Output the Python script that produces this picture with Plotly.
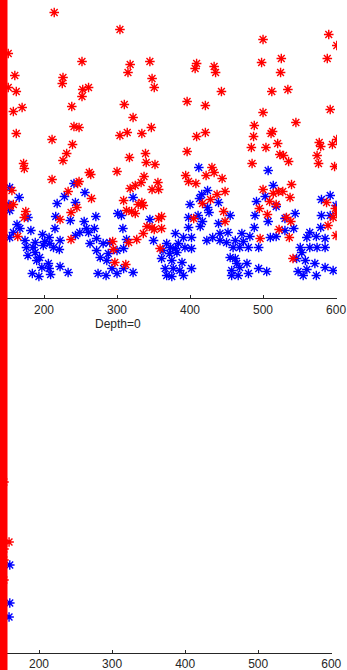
import plotly.graph_objects as go

# Upper panel (Depth=0): red and blue samples
red_x = [214, 304, 151, 252, 160, 226, 225, 151, 162, 253, 261, 252, 170, 238, 158, 241, 248, 162, 211, 239,
         304, 231, 226, 172, 173, 262, 264, 300, 211, 248, 246, 156, 233, 265, 158, 153, 245, 175, 173, 237,
         222, 164, 237, 294, 295, 297, 317, 339, 340, 352, 396, 337, 333, 325, 318, 356, 348, 357, 309, 334,
         329, 336, 313, 320, 325, 361, 357, 341, 348, 351, 361, 336, 327, 316, 359, 312, 394, 398, 408, 422,
         430, 433, 444, 437, 448, 428, 417, 446, 448, 405, 523, 528, 535, 485, 574, 576, 598, 539, 500, 514,
         521, 527, 537, 509, 518, 495, 506, 532, 538, 522, 536, 496, 541, 587, 599, 601, 596, 589, 600, 345,
         409, 407, 433, 435, 348, 351, 443, 396, 421, 347, 409, 421, 500, 498, 525, 524, 512, 534, 500, 545,
         488, 487, 513, 511, 520, 484, 504, 590, 601, 588, 592, 601, 595, 577, 579, 318, 315, 310, 322, 314,
         334]
red_y = [286, 269, 245, 237, 223, 221, 215, 211, 207, 209, 211, 202, 191, 192, 187, 172, 171, 165, 159, 154,
         163, 145, 138, 135, 130, 126, 124, 127, 119, 117, 115, 108, 107, 100, 94, 92, 91, 87, 81, 86,
         79, 62, 59, 57, 49, 36, 141, 145, 136, 134, 147, 122, 116, 113, 110, 116, 109, 109, 98, 96,
         94, 93, 88, 87, 85, 82, 80, 72, 71, 69, 70, 65, 59, 56, 50, 34, 123, 117, 115, 123,
         131, 126, 120, 104, 107, 99, 95, 87, 77, 80, 144, 143, 137, 135, 143, 135, 132, 114, 109, 105,
         107, 107, 101, 97, 94, 90, 84, 81, 77, 69, 61, 60, 40, 96, 90, 85, 81, 73, 63, 237,
         235, 230, 232, 226, 220, 211, 207, 197, 193, 171, 162, 166, 259, 236, 240, 226, 207, 209, 186, 176,
         173, 162, 167, 165, 155, 151, 151, 264, 253, 240, 189, 159, 154, 156, 152, 234, 226, 194, 181, 166,
         165]

blue_x = [241, 153, 166, 256, 228, 243, 218, 152, 153, 216, 236, 271, 178, 255, 163, 167, 182, 215, 258, 269,
          249, 158, 153, 198, 207, 243, 261, 174, 188, 201, 222, 208, 272, 301, 176, 185, 199, 213, 221, 263,
          281, 178, 188, 194, 272, 277, 288, 190, 206, 286, 197, 207, 222, 233, 184, 193, 209, 274, 285, 293,
          300, 300, 290, 412, 322, 306, 424, 416, 413, 400, 439, 424, 426, 411, 398, 345, 417, 439, 308, 398,
          414, 380, 391, 402, 350, 368, 384, 431, 441, 452, 313, 309, 373, 380, 393, 402, 423, 441, 450, 459,
          363, 372, 382, 361, 375, 389, 455, 462, 366, 377, 386, 402, 309, 322, 368, 375, 391, 457, 457, 464,
          507, 514, 503, 491, 518, 544, 489, 507, 530, 488, 542, 530, 455, 471, 482, 510, 518, 564, 560, 573,
          585, 579, 580, 592, 600, 580, 592, 462, 473, 468, 480, 494, 551, 564, 574, 585, 553, 546, 558, 571,
          478, 468, 494, 505, 466, 480, 548, 560, 585, 596, 573, 555]
blue_y = [115, 111, 101, 106, 102, 96, 95, 94, 88, 82, 78, 82, 81, 77, 74, 70, 68, 70, 70, 70,
          66, 66, 61, 64, 61, 63, 66, 58, 56, 57, 58, 55, 60, 85, 51, 51, 53, 51, 49, 55,
          55, 43, 46, 41, 48, 41, 45, 38, 35, 38, 31, 30, 32, 26, 25, 22, 24, 25, 23, 30,
          25, 48, 56, 131, 101, 83, 108, 104, 100, 94, 96, 91, 86, 83, 81, 79, 77, 75, 70, 71,
          72, 65, 61, 61, 58, 55, 55, 61, 65, 66, 59, 50, 51, 50, 51, 50, 58, 58, 56, 51,
          48, 45, 46, 40, 38, 36, 41, 40, 30, 30, 28, 30, 30, 26, 23, 22, 23, 28, 23, 35,
          128, 113, 102, 97, 92, 85, 83, 77, 80, 71, 70, 68, 83, 65, 62, 61, 62, 66, 61, 62,
          60, 71, 99, 103, 93, 83, 83, 58, 57, 51, 51, 51, 51, 51, 51, 51, 46, 40, 38, 35,
          35, 31, 30, 27, 23, 25, 27, 29, 31, 28, 23, 23]

# Lower panel: only a few samples near the left edge
red_x_lower = [159, 152, 152, 152, 152]
red_y_lower = [111, 104, 93, 73, 171]
blue_x_lower = [160, 160, 159]
blue_y_lower = [88, 50, 36]

tick_values = [200, 300, 400, 500, 600]
depth_label = "Depth=0"

RED = "#ff0000"
BLUE = "#0000ff"
AXIS = "#262626"
FONT = "Liberation Sans, Arial, sans-serif"


def star_trace(x, y, color, xa, ya):
    return go.Scatter(
        x=x, y=y, mode="markers", xaxis=xa, yaxis=ya, showlegend=False,
        marker=dict(symbol="asterisk-open", size=8, color=color,
                    line=dict(color=color, width=1.4)),
    )


fig = go.Figure()
fig.add_trace(star_trace(blue_x, blue_y, BLUE, "x", "y"))
fig.add_trace(star_trace(red_x, red_y, RED, "x", "y"))
fig.add_trace(star_trace(blue_x_lower, blue_y_lower, BLUE, "x2", "y2"))
fig.add_trace(star_trace(red_x_lower, red_y_lower, RED, "x2", "y2"))

xaxis_style = dict(
    tickvals=tick_values, ticks="inside", ticklen=3, tickwidth=1, tickcolor=AXIS,
    showline=True, linecolor=AXIS, linewidth=1, showgrid=False, zeroline=False,
    tickfont=dict(family=FONT, size=12, color=AXIS), fixedrange=True,
    automargin=False,
)
yaxis_style = dict(visible=False, automargin=False, fixedrange=True)

fig.update_layout(
    width=347, height=670,
    margin=dict(l=0, r=0, t=0, b=0, autoexpand=False),
    paper_bgcolor="white", plot_bgcolor="white",
    xaxis=dict(domain=[0, 337 / 347], range=[139.7, 601.3], anchor="y", **xaxis_style),
    yaxis=dict(domain=[0.5545, 1.0], range=[0, 298.5], anchor="x", **yaxis_style),
    xaxis2=dict(domain=[0, 331.5 / 347], range=[146.6, 600.3], anchor="y2", **xaxis_style),
    yaxis2=dict(domain=[0.0254, 0.4851], range=[0, 308], anchor="x2", **yaxis_style),
    annotations=[dict(
        text=depth_label, xref="paper", yref="paper", x=118 / 347, y=1 - 324 / 670,
        xanchor="center", yanchor="middle", showarrow=False,
        font=dict(family=FONT, size=12, color=AXIS),
    )],
    shapes=[dict(
        type="rect", xref="paper", yref="paper", x0=0, x1=7.5 / 347, y0=0, y1=1,
        fillcolor=RED, line=dict(width=0), layer="above",
    )],
)

fig.write_html("out.html")
